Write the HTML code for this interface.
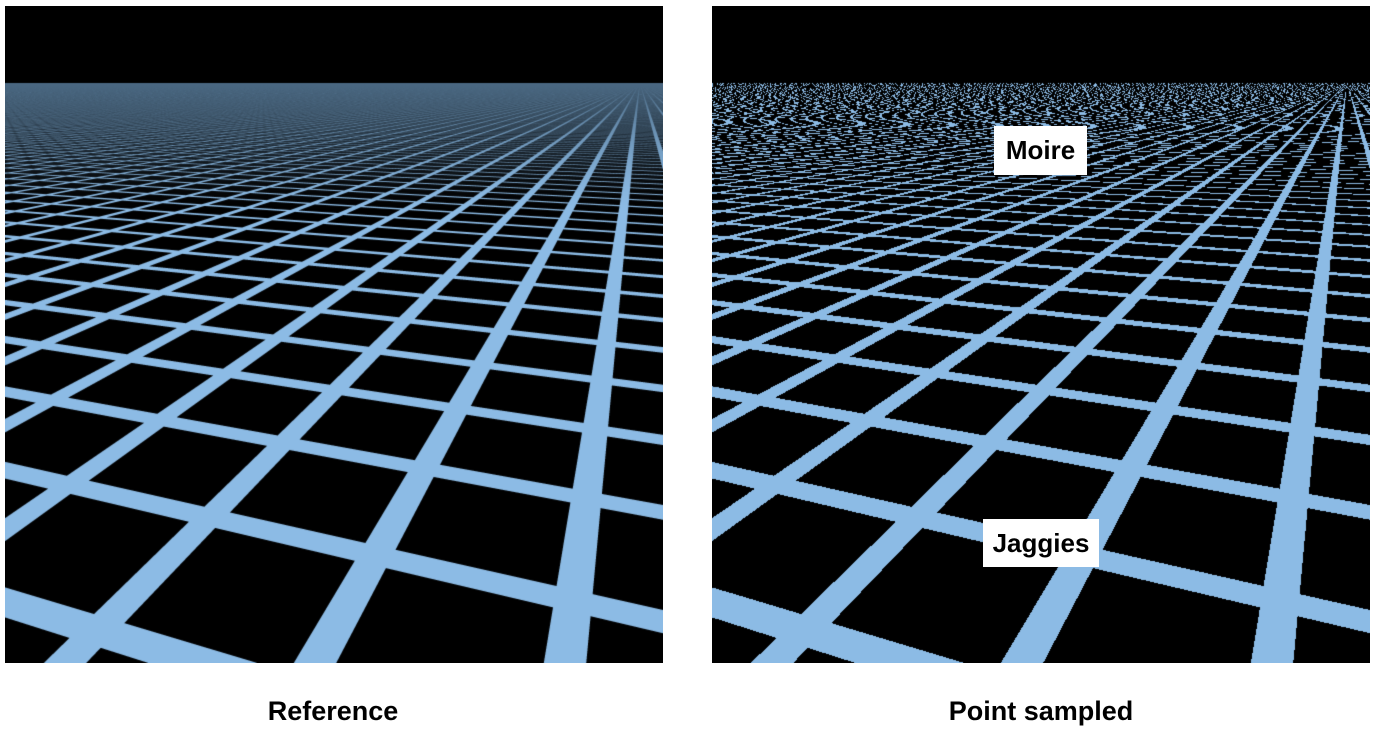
<!DOCTYPE html>
<html><head><meta charset="utf-8"><style>
body{margin:0;background:#fff;width:1378px;height:733px;position:relative;overflow:hidden;font-family:"Liberation Sans",sans-serif}
canvas{position:absolute;top:6px}
.cap{position:absolute;top:696px;font-weight:bold;font-size:27px;color:#000;transform:translateX(-50%);white-space:nowrap}
.tag{position:absolute;background:#fff;font-weight:bold;font-size:26px;color:#000;display:flex;align-items:center;justify-content:center}
</style></head><body>
<canvas id="ref" width="658" height="657" style="left:5px"></canvas>
<canvas id="pt" width="658" height="657" style="left:712px"></canvas>
<div class="tag" style="left:994px;top:126px;width:93px;height:49px">Moire</div>
<div class="tag" style="left:983px;top:519px;width:116px;height:48px">Jaggies</div>
<div class="cap" style="left:333px">Reference</div>
<div class="cap" style="left:1041px">Point sampled</div>
<script>
const W=658,Hh=657,c=329,cy=328.5,f=743,vh=77;
const phi=Math.atan((cy-vh)/f),cp=Math.cos(phi),sp=Math.sin(phi);
const th=Math.atan(0.39),ct=Math.cos(th),st=Math.sin(th);
const P=0.424,w=0.036;
function g(u,v){const vp=(v-cy)/f;const den=vp*cp+sp;if(den<=0)return null;const t=1/den;
const X=t*(u-c)/f,Z=t*(cp-vp*sp);return [X*ct-Z*st,X*st+Z*ct];}
const a0=g(310,657),b0=g(0,464);
const ox=a0[0],oz=b0[1];
function hit(u,v){const r=g(u,v);if(!r)return 0;
let x=((r[0]-ox)/P)%1;if(x<0)x+=1;let z=((r[1]-oz)/P)%1;if(z<0)z+=1;
const hw=w/P;return (x<hw||x>1-hw||z<hw||z>1-hw)?1:0;}
const LC=[140,187,229],HZ=[74,104,130];
function draw(id,ss){const cv=document.getElementById(id),ctx=cv.getContext('2d');
const im=ctx.createImageData(W,Hh),d=im.data;
for(let v=0;v<Hh;v++)for(let u=0;u<W;u++){let s=0,n;
if(v+0.5<vh){s=0;n=1;}else if(ss===1){s=hit(u+0.5,v+0.5);n=1;}
else{let k=v<130?16:(v<250?8:4);n=k*k;for(let i=0;i<k;i++)for(let j=0;j<k;j++)s+=hit(u+(i+0.5)/k,v+(j+0.5)/k);}
const a=s/n,o=(v*W+u)*4;
let r=LC[0]*a,gg=LC[1]*a,b=LC[2]*a;
if(ss!==1&&v>=vh){let m=Math.max(0,1-(v-vh)/130);m=Math.pow(m,1.5);r=r*(1-m)+HZ[0]*m;gg=gg*(1-m)+HZ[1]*m;b=b*(1-m)+HZ[2]*m;}
d[o]=r;d[o+1]=gg;d[o+2]=b;d[o+3]=255;}
ctx.putImageData(im,0,0);}
draw('ref',4);draw('pt',1);
</script>
</body></html>
